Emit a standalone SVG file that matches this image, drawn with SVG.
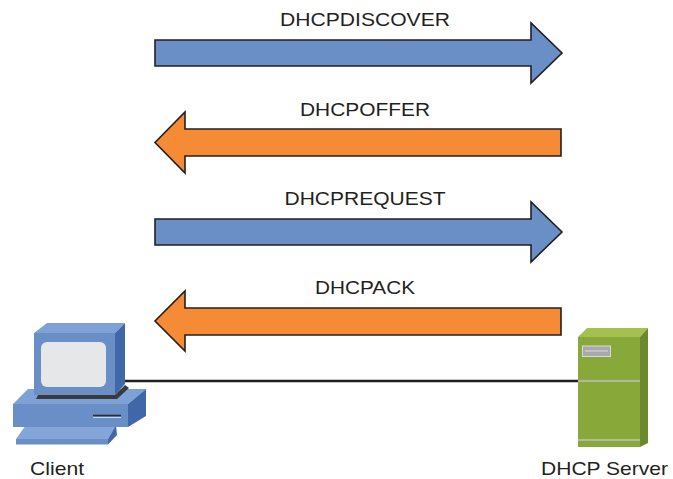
<svg xmlns="http://www.w3.org/2000/svg" width="673" height="479" viewBox="0 0 673 479">
  <style>
    .lbl { font-family: "Liberation Sans", Arial, sans-serif; font-size: 19px; fill: #231f20; }
    .msg { text-anchor: middle; }
    .arrow { stroke: #231f20; stroke-width: 1.6; stroke-linejoin: miter; }
    .req { fill: #6a8fc7; }
    .rsp { fill: #f58b35; }
    .edge { stroke: #231f20; stroke-width: 2.4; fill: none; }
  </style>
  <rect width="673" height="479" fill="#ffffff"/>

  <!-- link between client and server -->
  <g id="connectors">
    <line class="edge" x1="120" y1="381" x2="580" y2="381"/>
  </g>

  <!-- DHCP message arrows -->
  <g id="msg-discover">
    <polygon class="arrow req" points="155,40 531,40 531,23 562,53 531,83 531,66 155,66"/>
    <text class="lbl msg" x="365" y="26" textLength="170" lengthAdjust="spacingAndGlyphs">DHCPDISCOVER</text>
  </g>
  <g id="msg-offer">
    <polygon class="arrow rsp" points="561,129 185,129 185,112 155,142.5 185,173 185,156 561,156"/>
    <text class="lbl msg" x="365" y="116" textLength="130" lengthAdjust="spacingAndGlyphs">DHCPOFFER</text>
  </g>
  <g id="msg-request">
    <polygon class="arrow req" points="155,219 531,219 531,202 562,232 531,262 531,245 155,245"/>
    <text class="lbl msg" x="365" y="205" textLength="161" lengthAdjust="spacingAndGlyphs">DHCPREQUEST</text>
  </g>
  <g id="msg-ack">
    <polygon class="arrow rsp" points="561,308 185,308 185,291 155,321 185,351 185,335 561,335"/>
    <text class="lbl msg" x="365" y="294" textLength="100" lengthAdjust="spacingAndGlyphs">DHCPACK</text>
  </g>

  <!-- client workstation -->
  <g id="client">
    <!-- keyboard -->
    <polygon points="26,425 116,425 108,439 16,439" fill="#84a5d8"/>
    <rect x="16" y="439" width="92" height="5.5" fill="#6a8fc7"/>
    <polygon points="116,425 117,435 108,444.5 108,439" fill="#3f68a8"/>
    <!-- case -->
    <polygon points="13,404 28,389 146,389 128,404" fill="#7fa2d6"/>
    <rect x="13" y="404" width="115" height="23" fill="#6a8fc7"/>
    <polygon points="128,404 146,389 146,416 128,427" fill="#3f68a8"/>
    <line x1="93" y1="415.5" x2="121" y2="415.5" stroke="#2d2d2d" stroke-width="1.6"/>
    <line x1="93" y1="417.5" x2="121" y2="417.5" stroke="#c9d6ec" stroke-width="1"/>
    <!-- monitor stand shadow -->
    <polygon points="36,399 117,399 129,388 125,385 115,395 38,395" fill="#3a3a3c"/>
    <!-- monitor -->
    <polygon points="34,333 47,323 125,323 115,333" fill="#7fa2d6"/>
    <rect x="34" y="333" width="81" height="62" fill="#6a8fc7"/>
    <polygon points="115,333 125,323 125,384 115,395" fill="#3f68a8"/>
    <rect x="41" y="342" width="65" height="45" rx="6" fill="#e6e7e8"/>
    <text class="lbl" x="30" y="475" textLength="54" lengthAdjust="spacingAndGlyphs">Client</text>
  </g>

  <!-- DHCP server tower -->
  <g id="server">
    <polygon points="578,337 587,328 648,328 640,337" fill="#a3c14c"/>
    <rect x="578" y="337" width="62" height="110" fill="#88a83a"/>
    <polygon points="640,337 648,328 648,443 640,447" fill="#6b8a2e"/>
    <rect x="582.5" y="346" width="28" height="10.5" fill="#a7a9ac" stroke="#d8d9da" stroke-width="1"/>
    <line x1="585" y1="351" x2="608" y2="351" stroke="#d8d9da" stroke-width="1"/>
    <line x1="578" y1="381" x2="640" y2="381" stroke="#bfc1c3" stroke-width="1.6"/>
    <line x1="578" y1="440" x2="640" y2="440" stroke="#bfc1c3" stroke-width="1.6"/>
    <text class="lbl" x="541" y="475" textLength="127" lengthAdjust="spacingAndGlyphs">DHCP Server</text>
  </g>
</svg>
